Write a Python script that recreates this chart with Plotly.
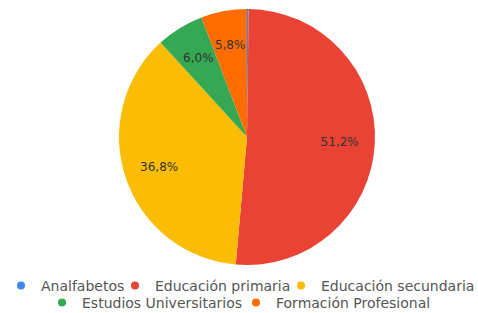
import plotly.graph_objects as go

labels = ["Analfabetos", "Educación primaria", "Educación secundaria",
          "Estudios Universitarios", "Formación Profesional"]
values = [0.2, 51.2, 36.8, 6.0, 5.8]
colors = ["#4285F4", "#EA4335", "#FBBC04", "#34A853", "#FF6D01"]

# legend layout: one legend per entry, (left edge px, row center px)
legend_pos = [(1, 286), (115, 286), (281, 286), (42, 303), (236, 303)]

W, H = 478, 313
FONT = "DejaVu Sans, Liberation Sans, Arial, sans-serif"
CX, CY, R = 247, 137, 128


def domain(r):
    return dict(x=[(CX - r) / W, (CX + r) / W], y=[(H - CY - r) / H, (H - CY + r) / H])


fig = go.Figure()
# coloured pie
fig.add_trace(go.Pie(
    labels=labels, values=values, sort=False, direction="clockwise", rotation=0,
    marker=dict(colors=colors, line=dict(width=0)),
    textinfo="none", showlegend=False, hoverinfo="label+percent",
    domain=domain(R),
))
# transparent rings on top carrying the percentage labels
for lo, hi, r in [(10, 101, R), (1, 10, 110)]:
    fig.add_trace(go.Pie(
        labels=labels, values=values, sort=False, direction="clockwise", rotation=0,
        hole=0.45,
        marker=dict(colors=["rgba(0,0,0,0)"] * len(values), line=dict(width=0)),
        texttemplate=["%{percent:.1%}" if lo <= v < hi else "" for v in values],
        textposition="inside", insidetextorientation="horizontal",
        textfont=dict(family=FONT, size=12, color="#333333"),
        showlegend=False, hoverinfo="skip",
        domain=domain(r),
    ))

legend_layout = {}
for i, (lbl, col) in enumerate(zip(labels, colors)):
    key = "legend" if i == 0 else f"legend{i + 1}"
    fig.add_trace(go.Scatter(
        x=[None], y=[None], mode="markers", name=lbl,
        marker=dict(color=col, size=8, symbol="circle"),
        legend=key,
    ))
    lx, ly = legend_pos[i]
    legend_layout[key] = dict(
        orientation="h", xanchor="left", x=lx / W, yanchor="middle", y=(H - ly) / H,
        font=dict(family=FONT, size=14, color="#555555"),
        bgcolor="rgba(0,0,0,0)", itemclick=False, itemdoubleclick=False,
    )

fig.update_layout(
    width=W, height=H,
    margin=dict(l=0, r=0, t=0, b=0, autoexpand=False),
    paper_bgcolor="white", plot_bgcolor="white",
    separators=",.",
    xaxis=dict(visible=False), yaxis=dict(visible=False),
    **legend_layout,
)

fig.write_html("out.html", config={"displayModeBar": False},
               post_script="document.body.style.margin='0';")
